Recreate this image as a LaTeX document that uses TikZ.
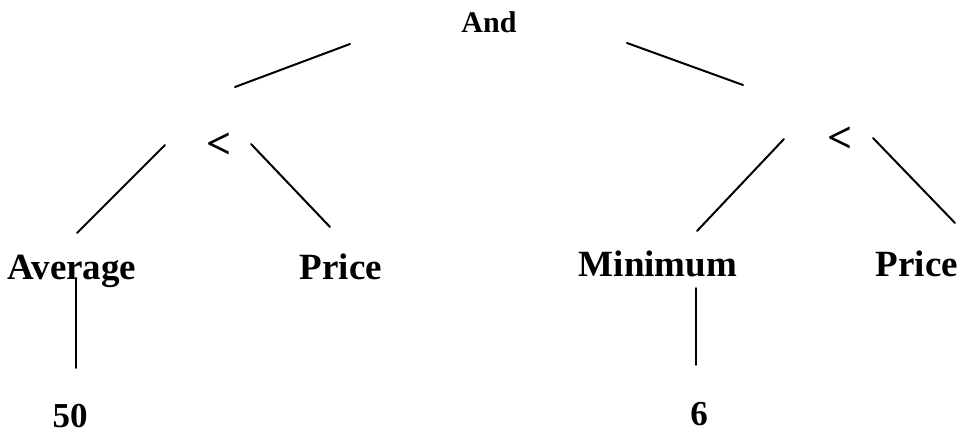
\documentclass[tikz,border=0pt]{standalone}
\usepackage{fontspec}
\setmainfont{Liberation Serif}
\begin{document}
\begin{tikzpicture}[x=1pt,y=-1pt,
  lbl/.style={font=\fontsize{37}{42}\selectfont\bfseries, inner sep=0pt, anchor=base},
  num/.style={font=\fontsize{35}{40}\selectfont\bfseries, inner sep=0pt, anchor=base},
  rel/.style={font=\fontsize{44}{48}\selectfont\bfseries, inner sep=0pt, anchor=base},
  top/.style={font=\fontsize{30}{34}\selectfont\bfseries, inner sep=0pt, anchor=base},
  edge/.style={line width=2pt, line cap=round}]
\useasboundingbox[fill=white] (0,0) rectangle (961,435);
% nodes
\node[top] (and) at (489,33) {And};
\node[rel] (ltL) at (219,159) {<};
\node[rel] (ltR) at (840,153) {<};
\node[lbl] (avg) at (72,280) {Average};
\node[lbl] (pr1) at (341,280) {Price};
\node[lbl] (min) at (658,277) {Minimum};
\node[lbl] (pr2) at (917,277) {Price};
\node[num] (n50) at (70,428) {50};
\node[num] (n6) at (699,425) {6};
% connector end points
\coordinate (a1) at (235,87);  \coordinate (a2) at (350,44);
\coordinate (b1) at (627,43);  \coordinate (b2) at (743,85);
\coordinate (c1) at (165,145); \coordinate (c2) at (77,233);
\coordinate (d1) at (251,144); \coordinate (d2) at (330,227);
\coordinate (e1) at (784,139); \coordinate (e2) at (697,231);
\coordinate (f1) at (873,138); \coordinate (f2) at (955,223);
\coordinate (g1) at (76,278);  \coordinate (g2) at (76,368);
\coordinate (h1) at (696,288); \coordinate (h2) at (696,365);
% connectors
\draw[edge] (a1) -- (a2);
\draw[edge] (b1) -- (b2);
\draw[edge] (c1) -- (c2);
\draw[edge] (d1) -- (d2);
\draw[edge] (e1) -- (e2);
\draw[edge] (f1) -- (f2);
\draw[edge, line width=1.6pt] (g1) -- (g2);
\draw[edge, line width=1.6pt] (h1) -- (h2);
\end{tikzpicture}
\end{document}
